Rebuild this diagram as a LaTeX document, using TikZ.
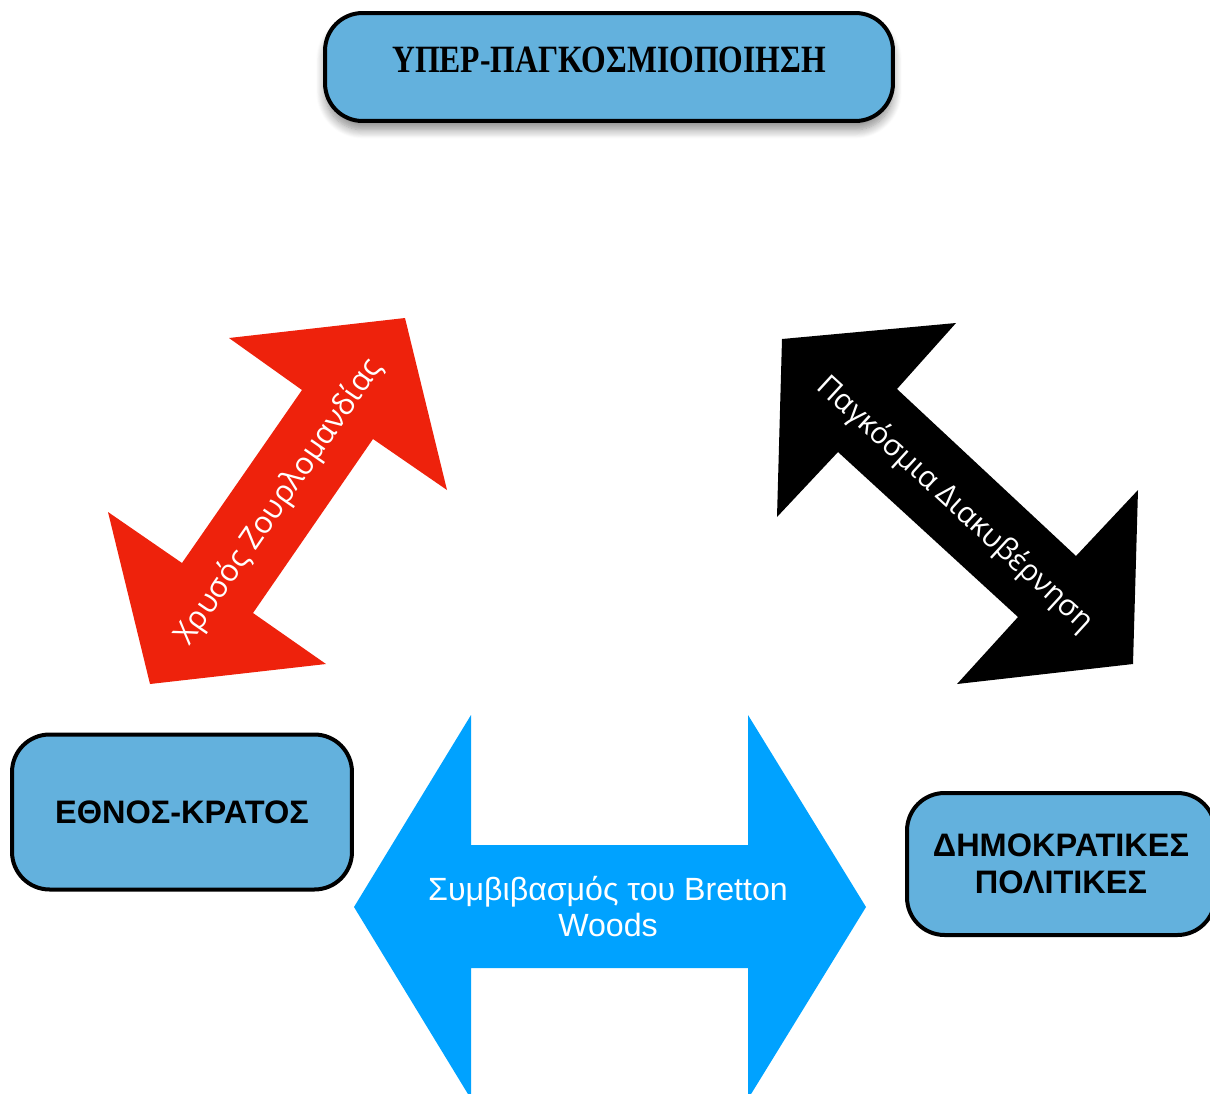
\documentclass[tikz,border=0pt]{standalone}
\usepackage{fontspec}
\setmainfont{Liberation Sans}
\newfontfamily\timesf{Liberation Serif}
\newfontfamily\roundf{Open Sans}
\usetikzlibrary{shadows,shadows.blur}
\definecolor{boxblue}{HTML}{63B1DD}
\definecolor{arrowblue}{HTML}{00A2FF}
\definecolor{arrowred}{HTML}{EE220C}
\tikzset{
  termbox/.style={draw=black, line width=0.08cm, fill=boxblue, rounded corners=0.75cm, inner sep=0pt, align=center},
  boxtext/.style={font=\bfseries\fontsize{18.5pt}{21pt}\selectfont},
  arrowlabel/.style={text=white, inner sep=0pt, align=center},
  slanted/.style={font=\roundf\fontsize{17.5pt}{21pt}\selectfont},
  softshadow/.style={blur shadow={shadow xshift=0pt, shadow yshift=-5pt, shadow blur radius=5pt, shadow blur steps=10, shadow opacity=45}},
}
\begin{document}
\begin{tikzpicture}[x=0.02cm,y=-0.02cm]
\useasboundingbox (0,0) rectangle (1210,1093);
\begin{scope}
\clip (0,0) rectangle (1210,1093);
% top box
\node[termbox, softshadow, minimum width=11.36cm, minimum height=2.16cm,
      font=\timesf\bfseries\fontsize{22pt}{26pt}\selectfont] (hyper) at (609,67)
  {\raisebox{0.3cm}{\scalebox{0.82}[1]{ΥΠΕΡ-ΠΑΓΚΟΣΜΙΟΠΟΙΗΣΗ}}};
% left box
\node[termbox, boxtext, minimum width=6.8cm, minimum height=3.1cm] (nation) at (182,812)
  {ΕΘΝΟΣ-ΚΡΑΤΟΣ};
% right box
\node[termbox, boxtext, minimum width=6.16cm, minimum height=2.84cm] (demo) at (1061,864)
  {ΔΗΜΟΚΡΑΤΙΚΕΣ\\ΠΟΛΙΤΙΚΕΣ};
% red arrow
\fill[arrowred] (405,318)--(447,490)--(373,439)--(253,613)--(326,664)--(150,684)--(108,512)--(182,563)--(302,390)--(229,338)--cycle;
\node[arrowlabel, slanted, rotate=55.4] (gold) at (279,502)
  {Χρυσός Ζουρλομανδίας};
% black arrow
\fill[black] (782,339)--(956,323)--(897,389)--(1076,556)--(1138,490)--(1133,664)--(957,684)--(1018,617)--(838,452)--(777,517)--cycle;
\node[arrowlabel, rotate=-42.5, font=\roundf\fontsize{17pt}{21pt}\selectfont] (gov) at (955,504)
  {Παγκόσμια Διακυβέρνηση};
% blue arrow
\fill[arrowblue] (354,907)--(471,715)--(471,845)--(748,845)--(748,715)--(866,907)--(748,1099)--(748,968)--(471,968)--(471,1099)--cycle;
\node[arrowlabel, font=\fontsize{18.3pt}{20.5pt}\selectfont] (bw) at (608,907)
  {Συμβιβασμός του Bretton\\Woods};
\end{scope}
\end{tikzpicture}
\end{document}
